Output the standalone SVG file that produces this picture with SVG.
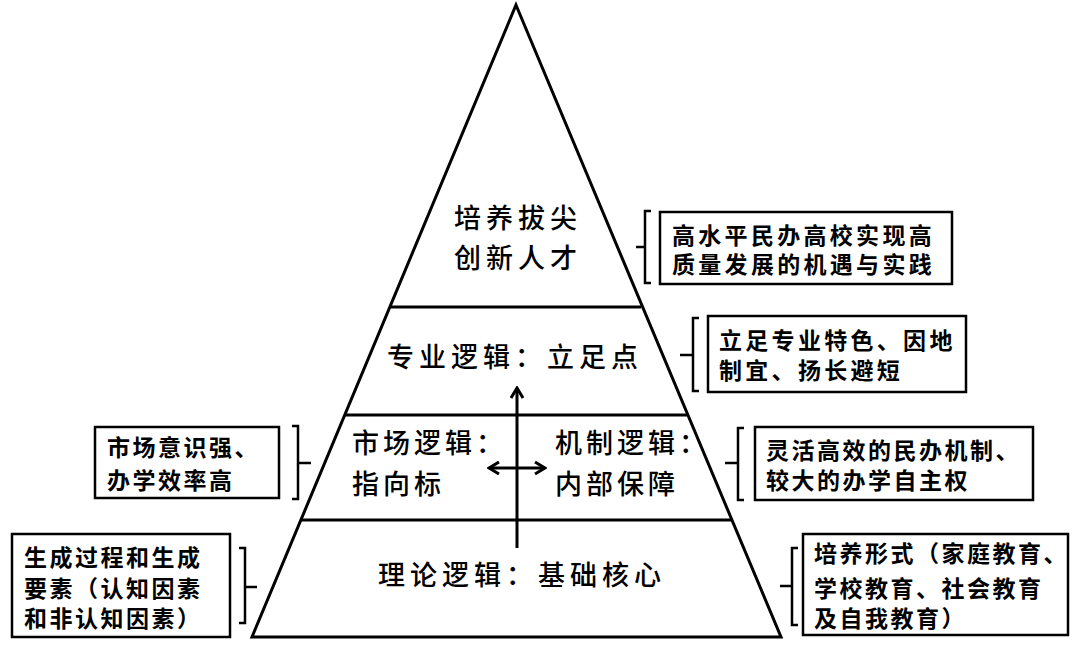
<svg xmlns="http://www.w3.org/2000/svg" width="1080" height="648" viewBox="0 0 1080 648">
<style>
.ln{stroke:#000;stroke-width:3;fill:none}
.box{stroke:#000;stroke-width:2.5;fill:#fff}
.br{stroke:#000;stroke-width:2.5;fill:none}
.pt{font-family:"Noto Sans CJK SC","Noto Sans",sans-serif;font-size:27px;letter-spacing:5px;font-weight:500;fill:#000}
.bt{font-family:"Noto Sans CJK SC","Noto Sans",sans-serif;font-size:23px;letter-spacing:2.5px;font-weight:bold;fill:#000}
.wide{letter-spacing:3.3px}
</style>
<defs>
<marker id="chev" viewBox="0 0 14 14" refX="12" refY="7" markerWidth="14" markerHeight="14" markerUnits="userSpaceOnUse" orient="auto-start-reverse">
<polyline points="2,1 12,7 2,13" fill="none" stroke="#000" stroke-width="3"/>
</marker>
</defs>
<rect width="1080" height="648" fill="#fff"/>
<g id="pyramid">
<polygon class="ln" points="516,5 781,637 252,637"/>
<line class="ln" x1="391" y1="307" x2="641" y2="307"/>
<line class="ln" x1="345" y1="415" x2="687" y2="415"/>
<line class="ln" x1="301" y1="520" x2="731" y2="520"/>
</g>
<g id="connectors">
<line class="ln" x1="517" y1="548" x2="517" y2="388" marker-end="url(#chev)"/>
<line class="ln" x1="489" y1="468" x2="545" y2="468" marker-start="url(#chev)" marker-end="url(#chev)"/>
</g>
<g id="top-level">
<text class="pt" x="454" y="228">培养拔尖</text>
<text class="pt" x="454" y="268">创新人才</text>
</g>
<g id="professional-logic">
<text class="pt" x="387" y="367">专业逻辑：立足点</text>
</g>
<g id="market-logic">
<text class="pt" x="352" y="453" style="letter-spacing:4px">市场逻辑：</text>
<text class="pt" x="352" y="494" style="letter-spacing:4px">指向标</text>
</g>
<g id="mechanism-logic">
<text class="pt" x="555" y="453" style="letter-spacing:4px">机制逻辑：</text>
<text class="pt" x="555" y="494" style="letter-spacing:4px">内部保障</text>
</g>
<g id="theory-logic">
<text class="pt" x="378" y="585">理论逻辑：基础核心</text>
</g>
<g id="note-top">
<path class="br" d="M651,211 H645 V283 H651 M645,247 H636"/>
<rect class="box" x="660" y="212" width="292" height="72"/>
<text class="bt wide" x="672" y="244">高水平民办高校实现高</text>
<text class="bt wide" x="672" y="273">质量发展的机遇与实践</text>
</g>
<g id="note-professional">
<path class="br" d="M699,318 H693 V391 H699 M693,355 H680"/>
<rect class="box" x="708" y="316" width="258" height="76"/>
<text class="bt wide" x="719" y="349">立足专业特色、因地</text>
<text class="bt wide" x="719" y="379">制宜、扬长避短</text>
</g>
<g id="note-market">
<path class="br" d="M292,426 H298 V499 H292 M298,463 H311"/>
<rect class="box" x="95" y="427" width="184" height="71"/>
<text class="bt" x="107" y="456">市场意识强、</text>
<text class="bt" x="107" y="489">办学效率高</text>
</g>
<g id="note-mechanism">
<path class="br" d="M744,428 H738 V500 H744 M738,463 H725"/>
<rect class="box" x="755" y="427" width="278" height="73"/>
<text class="bt" x="766" y="459">灵活高效的民办机制、</text>
<text class="bt" x="766" y="489">较大的办学自主权</text>
</g>
<g id="note-theory">
<path class="br" d="M239,548 H245 V623 H239 M245,587 H257"/>
<rect class="box" x="12" y="534" width="218" height="103"/>
<text class="bt" x="24" y="566">生成过程和生成</text>
<text class="bt" x="24" y="597">要素（认知因素</text>
<text class="bt" x="24" y="627">和非认知因素）</text>
</g>
<g id="note-cultivation">
<path class="br" d="M798,548 H792 V625 H798 M792,586 H780"/>
<rect class="box" x="803" y="534" width="265" height="101"/>
<text class="bt" x="814" y="562">培养形式（家庭教育、</text>
<text class="bt" x="814" y="597">学校教育、社会教育</text>
<text class="bt" x="814" y="627">及自我教育）</text>
</g>
</svg>
